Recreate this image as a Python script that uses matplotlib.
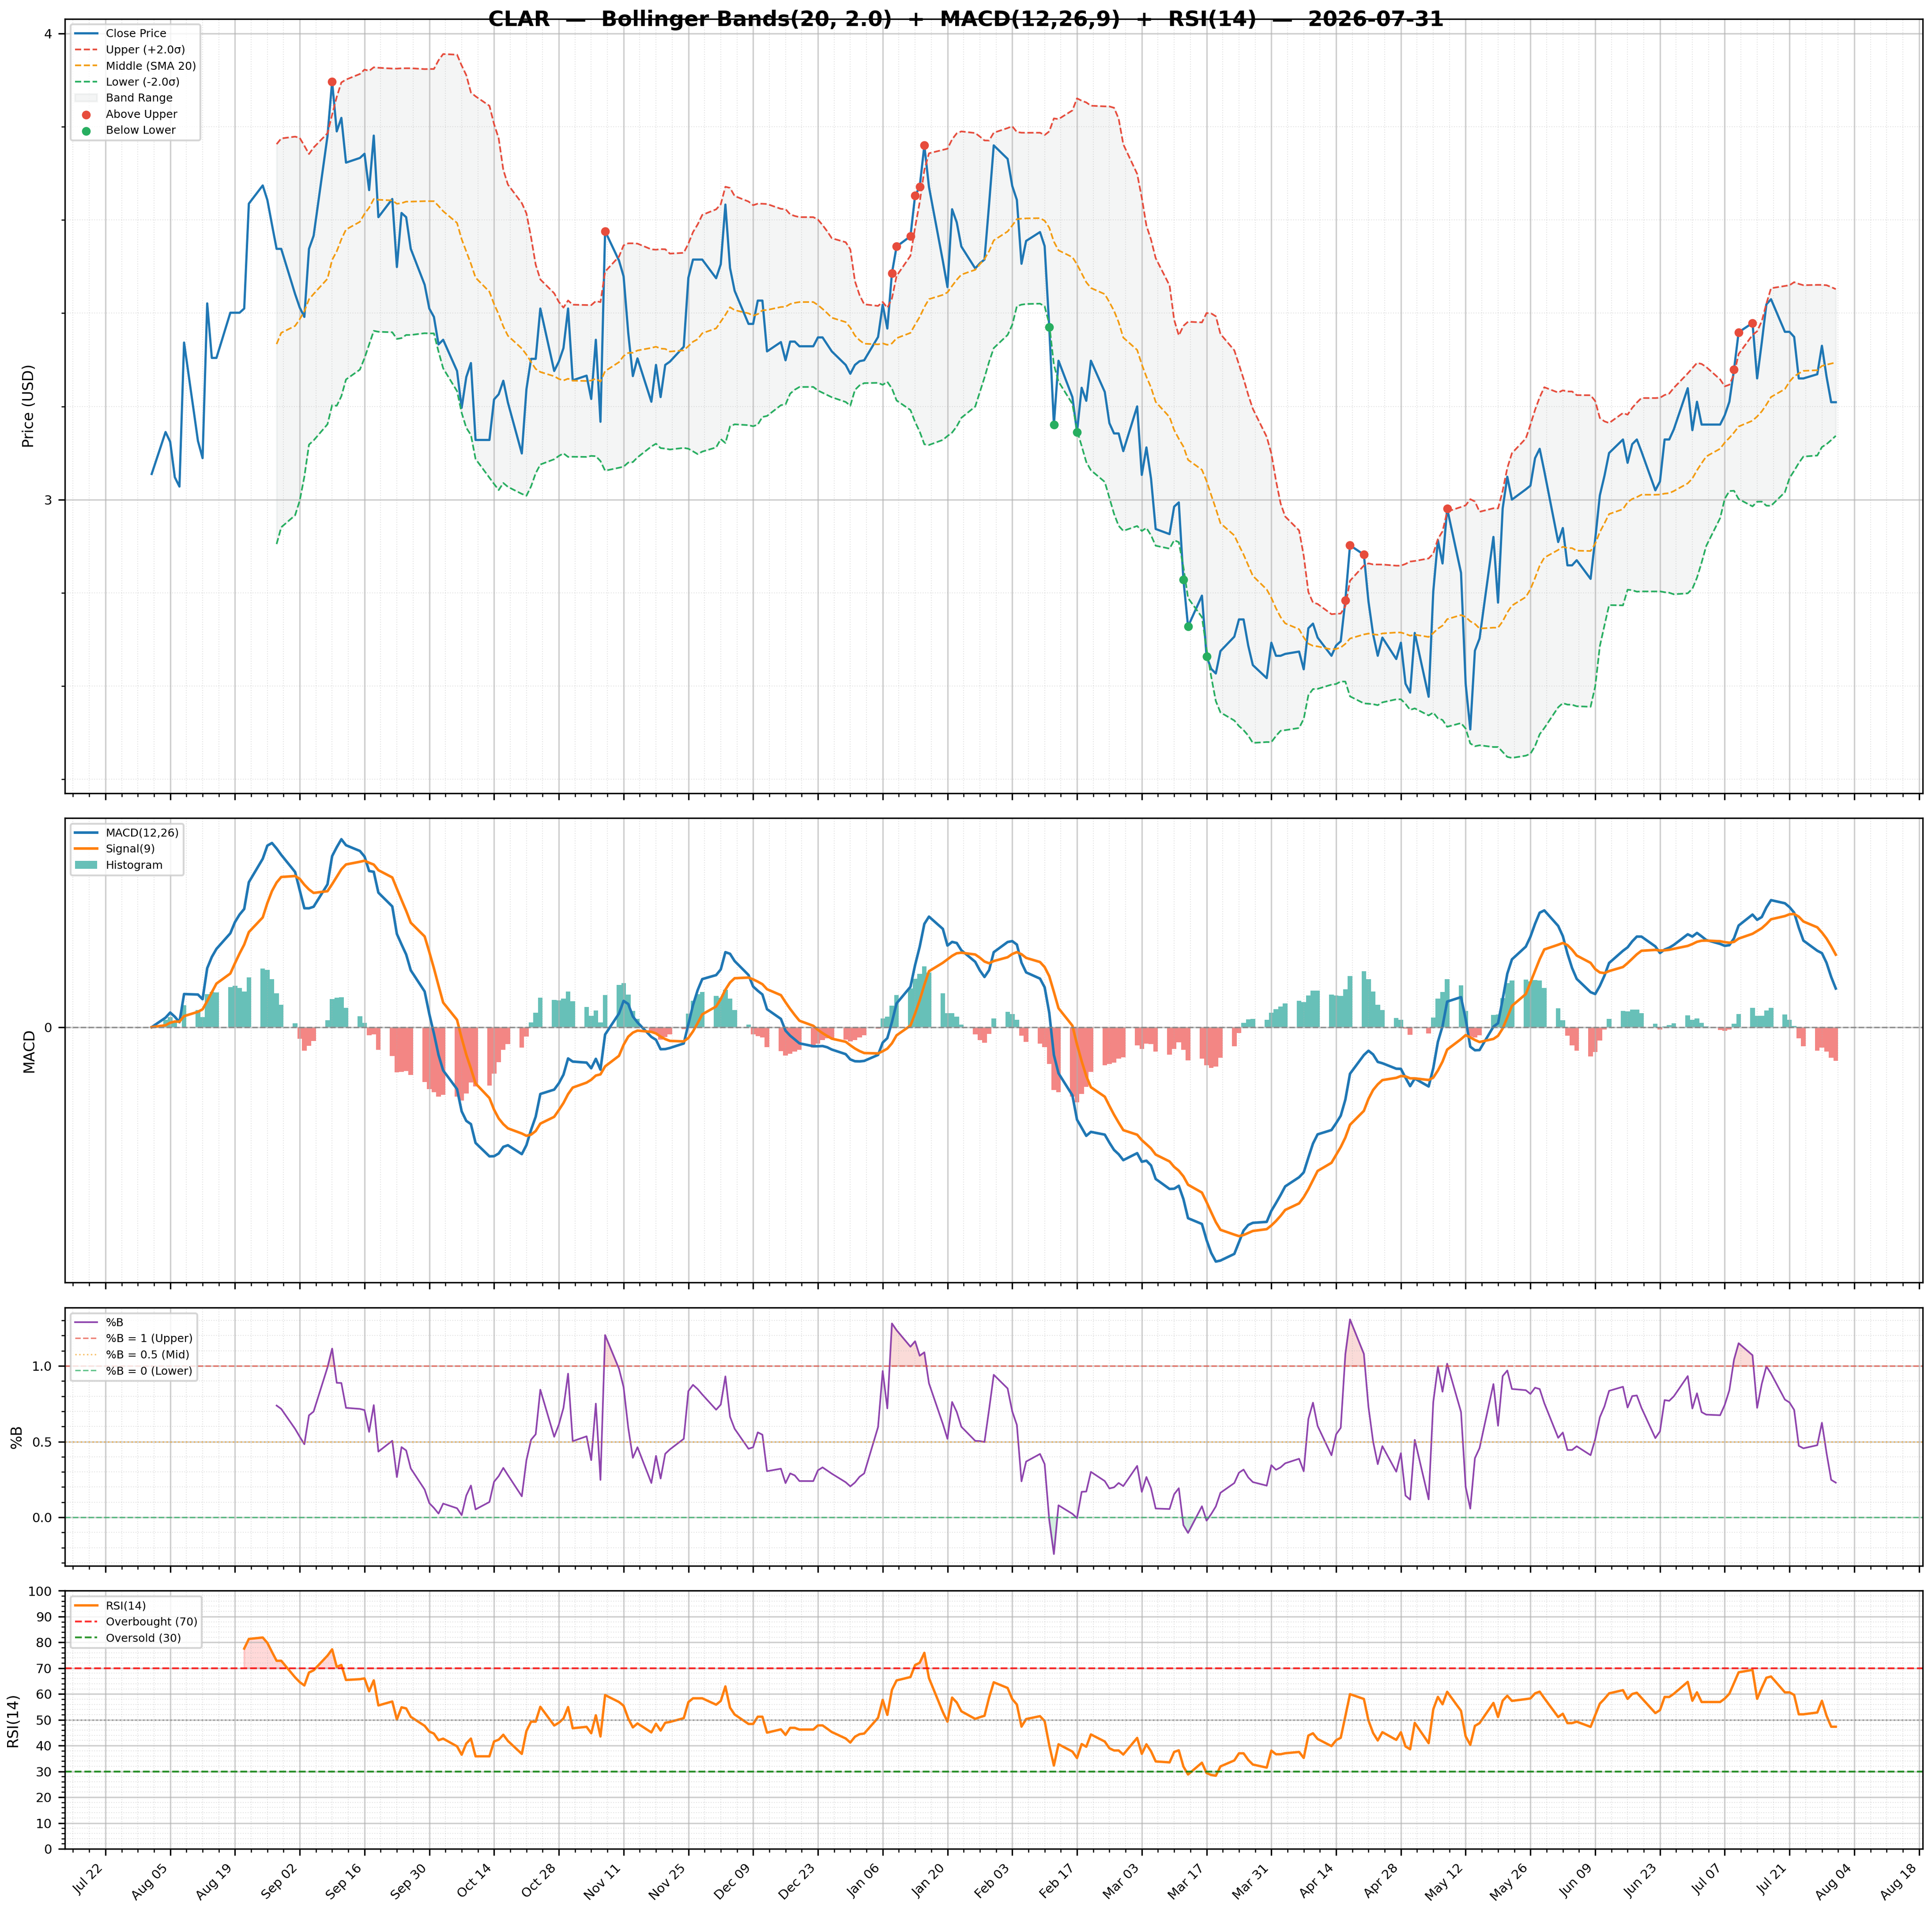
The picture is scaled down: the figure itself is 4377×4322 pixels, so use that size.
import matplotlib
matplotlib.use("Agg")
import matplotlib.pyplot as plt
import matplotlib.dates as mdates
from matplotlib.ticker import MultipleLocator, FixedLocator
import numpy as np
import pandas as pd

# ---- data ----
ticker = "CLAR"
dates = pd.bdate_range("2025-08-01", "2026-07-31")

close = [
    # Aug 2025
    3.055, 3.145, 3.124, 3.048, 3.028, 3.337, 3.126, 3.089, 3.421, 3.304,
    3.304, 3.401, 3.401, 3.401, 3.410, 3.635, 3.674, 3.643, 3.590, 3.538,
    3.538,
    # Sep
    3.441, 3.412, 3.392, 3.538, 3.566, 3.780, 3.897, 3.790, 3.819, 3.723,
    3.733, 3.742, 3.664, 3.781, 3.606, 3.645, 3.499, 3.615, 3.606, 3.538,
    3.461, 3.410,
    # Oct
    3.392, 3.333, 3.343, 3.276, 3.197, 3.263, 3.293, 3.128, 3.128, 3.215,
    3.226, 3.255, 3.208, 3.099, 3.237, 3.302, 3.302, 3.410, 3.276, 3.296,
    3.325, 3.410, 3.256,
    # Nov
    3.266, 3.216, 3.343, 3.167, 3.576, 3.513, 3.479, 3.358, 3.265, 3.303,
    3.210, 3.289, 3.220, 3.289, 3.296, 3.328, 3.476, 3.515, 3.515, 3.515,
    # Dec
    3.475, 3.505, 3.633, 3.497, 3.448, 3.377, 3.377, 3.427, 3.427, 3.318,
    3.338, 3.299, 3.339, 3.339, 3.329, 3.329, 3.348, 3.348, 3.333, 3.318,
    3.289, 3.270, 3.289,
    # Jan 2026
    3.297, 3.299, 3.349, 3.418, 3.367, 3.486, 3.543, 3.565, 3.652, 3.671,
    3.760, 3.671, 3.512, 3.456, 3.623, 3.595, 3.543, 3.496, 3.507, 3.515,
    3.634, 3.760,
    # Feb
    3.731, 3.673, 3.643, 3.506, 3.555, 3.574, 3.544, 3.370, 3.161, 3.298,
    3.220, 3.145, 3.240, 3.212, 3.298, 3.231, 3.164, 3.142, 3.142, 3.104,
    # Mar
    3.200, 3.053, 3.112, 3.045, 2.937, 2.926, 2.985, 2.994, 2.828, 2.728,
    2.794, 2.664, 2.637, 2.627, 2.675, 2.706, 2.743, 2.743, 2.687, 2.645,
    2.617, 2.693,
    # Apr
    2.665, 2.665, 2.669, 2.674, 2.636, 2.724, 2.734, 2.704, 2.665, 2.687,
    2.696, 2.784, 2.902, 2.882, 2.781, 2.711, 2.665, 2.704, 2.658, 2.693,
    2.605, 2.586,
    # May
    2.714, 2.577, 2.803, 2.913, 2.863, 2.981, 2.843, 2.605, 2.507, 2.676,
    2.702, 2.920, 2.779, 2.981, 3.049, 3.000, 3.022, 3.030, 3.089, 3.109,
    3.061,
    # Jun
    2.909, 2.939, 2.859, 2.859, 2.870, 2.830, 2.915, 3.009, 3.051, 3.100,
    3.129, 3.079, 3.119, 3.129, 3.103, 3.020, 3.039, 3.129, 3.129, 3.151,
    3.239, 3.149,
    # Jul
    3.210, 3.161, 3.161, 3.161, 3.181, 3.210, 3.279, 3.359, 3.379, 3.260,
    3.337, 3.419, 3.430, 3.360, 3.360, 3.349, 3.260, 3.260, 3.269, 3.330,
    3.264, 3.209, 3.209,
]

bb_window, bb_k = 20, 2.0
macd_fast, macd_slow, macd_sig = 12, 26, 9
rsi_n = 14

# ---- indicators ----
s = pd.Series(close, index=dates)
mid = s.rolling(bb_window).mean()
sd = s.rolling(bb_window).std()
upper = mid + bb_k * sd
lower = mid - bb_k * sd
pctb = (s - lower) / (upper - lower)

ema_f = s.ewm(span=macd_fast, adjust=False).mean()
ema_s = s.ewm(span=macd_slow, adjust=False).mean()
macd = ema_f - ema_s
signal = macd.ewm(span=macd_sig, adjust=False).mean()
hist = macd - signal

delta = s.diff()
gain = delta.clip(lower=0)
loss = -delta.clip(upper=0)
avg_gain = gain.ewm(alpha=1 / rsi_n, adjust=False, min_periods=rsi_n).mean()
avg_loss = loss.ewm(alpha=1 / rsi_n, adjust=False, min_periods=rsi_n).mean()
rsi = 100 - 100 / (1 + avg_gain / avg_loss)

above = s > upper
below = s < lower

# ---- figure ----
fig = plt.figure(figsize=(14.593, 14.407), dpi=300)
axes = fig.subplots(4, 1, sharex=True, gridspec_kw=dict(
    height_ratios=[3, 1.8, 1, 1], hspace=0.057,
    left=0.0336, right=0.9949, top=0.9901, bottom=0.031))
ax1, ax2, ax3, ax4 = axes

# price + bands
ax1.plot(dates, s, color="#1f77b4", lw=1.2, label="Close Price")
ax1.plot(dates, upper, color="#e74c3c", ls="--", lw=0.9, label=f"Upper (+{bb_k}σ)")
ax1.plot(dates, mid, color="#f39c12", ls="--", lw=0.9, label=f"Middle (SMA {bb_window})")
ax1.plot(dates, lower, color="#27ae60", ls="--", lw=0.9, label=f"Lower (-{bb_k}σ)")
ax1.fill_between(dates, lower, upper, color="#95a5a6", alpha=0.1, label="Band Range")
ax1.scatter(dates[above], s[above], color="#e74c3c", s=14, zorder=5, label="Above Upper")
ax1.scatter(dates[below], s[below], color="#27ae60", s=14, zorder=5, label="Below Lower")
ax1.set_ylabel("Price (USD)", fontsize=8)
ax1.yaxis.set_major_locator(MultipleLocator(1))
ax1.legend(loc="upper left", fontsize=6)

# MACD
bar_colors = np.where(hist >= 0, "#26a69a", "#ef5350")
ax2.bar(dates, hist, width=1.0, color=bar_colors, alpha=0.7, label="Histogram")
ax2.plot(dates, macd, color="#1f77b4", lw=1.4, label=f"MACD({macd_fast},{macd_slow})")
ax2.plot(dates, signal, color="#ff7f0e", lw=1.4, label=f"Signal({macd_sig})")
ax2.axhline(0, color="grey", ls="--", lw=0.8, alpha=0.8)
ax2.set_ylabel("MACD", fontsize=8)
ax2.yaxis.set_major_locator(MultipleLocator(1))
ax2.legend(loc="upper left", fontsize=6)

# %B
ax3.plot(dates, pctb, color="#8e44ad", lw=0.9, label="%B")
ax3.axhline(1, color="#e74c3c", ls="--", lw=0.8, alpha=0.7, label="%B = 1 (Upper)")
ax3.axhline(0.5, color="#f39c12", ls=":", lw=0.8, alpha=0.6, label="%B = 0.5 (Mid)")
ax3.axhline(0, color="#27ae60", ls="--", lw=0.8, alpha=0.7, label="%B = 0 (Lower)")
ax3.fill_between(dates, pctb, 1, where=pctb > 1, color="#e74c3c", alpha=0.2, interpolate=True)
ax3.fill_between(dates, pctb, 0, where=pctb < 0, color="#27ae60", alpha=0.2, interpolate=True)
ax3.set_ylabel("%B", fontsize=8)
ax3.yaxis.set_major_locator(MultipleLocator(0.5))
ax3.legend(loc="upper left", fontsize=6)

# RSI
ax4.plot(dates, rsi, color="#ff7f0e", lw=1.3, label=f"RSI({rsi_n})")
ax4.axhline(70, color="red", ls="--", lw=1.0, alpha=0.8, label="Overbought (70)")
ax4.axhline(30, color="green", ls="--", lw=1.0, alpha=0.8, label="Oversold (30)")
ax4.axhline(50, color="grey", ls=":", lw=0.8, alpha=0.7)
ax4.fill_between(dates, rsi, 70, where=rsi >= 70, color="red", alpha=0.15, interpolate=True)
ax4.fill_between(dates, rsi, 30, where=rsi <= 30, color="green", alpha=0.15, interpolate=True)
ax4.set_ylim(0, 100)
ax4.set_ylabel(f"RSI({rsi_n})", fontsize=8)
ax4.yaxis.set_major_locator(MultipleLocator(10))
ax4.legend(loc="upper left", fontsize=6)

ticks = mdates.date2num(pd.date_range("2025-07-22", "2026-08-18", freq="14D"))
ax4.xaxis.set_major_locator(FixedLocator(ticks))
ax4.xaxis.set_major_formatter(mdates.DateFormatter("%b %d"))

for ax in axes:
    ax.minorticks_on()
    ax.grid(True, which="major", color="#b0b0b0", alpha=0.6, lw=0.8)
    ax.grid(True, which="minor", color="#b0b0b0", alpha=0.35, lw=0.5, ls=":")
    ax.tick_params(labelsize=7)
plt.setp(ax4.get_xticklabels(), rotation=45, ha="right")

fig.suptitle(f"{ticker}  —  Bollinger Bands({bb_window}, {bb_k})  +  MACD({macd_fast},{macd_slow},{macd_sig})"
             f"  +  RSI({rsi_n})  —  {dates[-1]:%Y-%m-%d}",
             fontsize=11.6, fontweight="bold", y=0.995)

fig.savefig("out.png", dpi=300)
